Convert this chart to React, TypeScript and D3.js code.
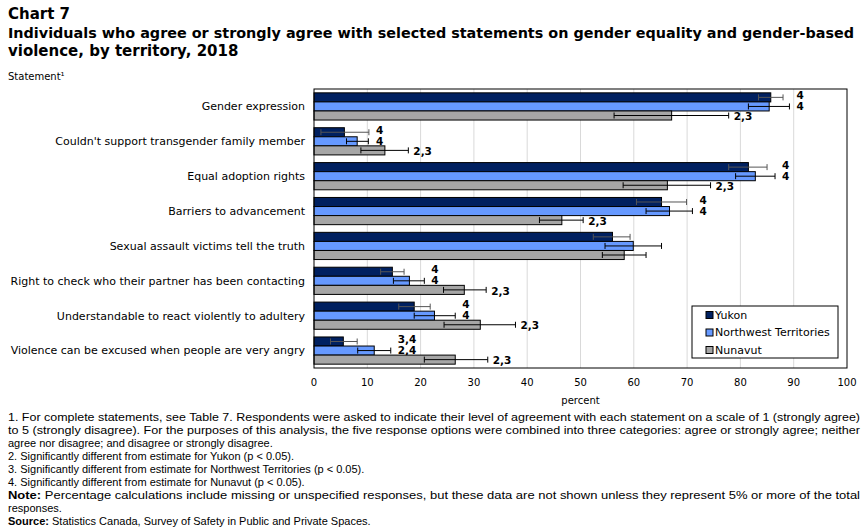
import * as d3 from 'd3';

const statements = [
  'Gender expression',
  "Couldn't support transgender family member",
  'Equal adoption rights',
  'Barriers to advancement',
  'Sexual assault victims tell the truth',
  'Right to check who their partner has been contacting',
  'Understandable to react violently to adultery',
  'Violence can be excused when people are very angry',
];

const territories = ['Yukon', 'Northwest Territories', 'Nunavut'];
const colors = ['#002060', '#6699ff', '#a6a6a6'];

// percent agreeing, with 95% confidence limits
const yukon = [85.7, 5.7, 81.5, 65.2, 56.0, 14.7, 18.8, 5.5];
const yukonLow = [83.4, 1.3, 77.8, 60.5, 52.4, 12.5, 15.9, 3.1];
const yukonHigh = [88.0, 10.3, 85.0, 69.9, 59.3, 16.9, 21.8, 8.1];

const nwt = [85.4, 8.1, 82.8, 66.7, 59.9, 17.9, 22.6, 11.3];
const nwtLow = [81.5, 6.1, 79.1, 62.3, 54.6, 14.9, 18.8, 8.2];
const nwtHigh = [89.2, 10.2, 86.5, 71.0, 65.2, 20.7, 26.5, 14.4];

const nunavut = [67.1, 13.3, 66.3, 46.5, 58.2, 28.2, 31.2, 26.5];
const nunavutLow = [56.3, 8.8, 58.0, 42.3, 54.1, 24.3, 24.4, 20.7];
const nunavutHigh = [77.8, 17.7, 74.4, 50.5, 62.3, 32.3, 37.8, 32.6];

// significance footnote markers
const yukonSig = ['4', '4', '4', '4', '', '4', '4', '3,4'];
const nwtSig = ['4', '4', '4', '4', '', '4', '4', '2,4'];
const nunavutSig = ['2,3', '2,3', '2,3', '2,3', '', '2,3', '2,3', '2,3'];

const xTicks = [0, 10, 20, 30, 40, 50, 60, 70, 80, 90, 100];

const notes = [
  { text: '1. For complete statements, see Table 7. Respondents were asked to indicate their level of agreement with each statement on a scale of 1 (strongly agree)', fit: true },
  { text: 'to 5 (strongly disagree). For the purposes of this analysis, the five response options were combined into three categories: agree or strongly agree; neither', fit: true },
  { text: 'agree nor disagree; and disagree or strongly disagree.' },
  { text: '2. Significantly different from estimate for Yukon (p < 0.05).' },
  { text: '3. Significantly different from estimate for Northwest Territories (p < 0.05).' },
  { text: '4. Significantly different from estimate for Nunavut (p < 0.05).' },
  { bold: 'Note:', text: ' Percentage calculations include missing or unspecified responses, but these data are not shown unless they represent 5% or more of the total', fit: true },
  { text: 'responses.' },
  { bold: 'Source:', text: ' Statistics Canada, Survey of Safety in Public and Private Spaces.' },
];

const series = [
  { values: yukon, low: yukonLow, high: yukonHigh, sig: yukonSig, errColor: '#555555' },
  { values: nwt, low: nwtLow, high: nwtHigh, sig: nwtSig, errColor: '#000000' },
  { values: nunavut, low: nunavutLow, high: nunavutHigh, sig: nunavutSig, errColor: '#000000' },
];

const font = '"DejaVu Sans", Verdana, sans-serif';
const noteFont = '"Liberation Sans", Arial, sans-serif';

export default function App() {
  const width = 866;
  const height = 531;
  const left = 314;
  const right = 847;
  const top = 89;
  const bottom = 368;

  const x = d3.scaleLinear().domain([0, 100]).range([left, right]);
  const y = d3.scaleBand<string>().domain(statements).range([top, bottom]).paddingInner(0.22).paddingOuter(0.11);
  const ySub = d3.scaleBand<string>().domain(territories).range([0, y.bandwidth()]);
  const bh = ySub.bandwidth();

  return (
    <svg width={width} height={height} style={{ position: 'absolute', left: 0, top: 0, background: '#fff' }}>
      <text x={8} y={19} fontFamily={font} fontSize={15} fontWeight="bold">Chart 7</text>
      <text x={8} y={38} fontFamily={font} fontSize={14} fontWeight="bold" textLength={846} lengthAdjust="spacingAndGlyphs">
        Individuals who agree or strongly agree with selected statements on gender equality and gender-based
      </text>
      <text x={8} y={56} fontFamily={font} fontSize={15} fontWeight="bold">violence, by territory, 2018</text>
      <text x={8} y={80} fontFamily={font} fontSize={10}>Statement¹</text>

      {xTicks.slice(1, -1).map(t => (
        <line key={t} x1={x(t)} x2={x(t)} y1={top} y2={bottom} stroke="#d9d9d9" />
      ))}

      {statements.map((s, i) => {
        const y0 = y(s)!;
        const hiTop = Math.max(yukonHigh[i], nwtHigh[i]);
        return (
          <g key={s}>
            <text x={305} y={y0 + y.bandwidth() / 2} dy="0.35em" textAnchor="end" fontFamily={font} fontSize={11}>{s}</text>
            {series.map((ser, k) => {
              const by = y0 + ySub(territories[k])!;
              const cy = by + bh / 2;
              const lx = (k < 2 ? x(hiTop) + 7 : x(ser.high[i]) + 5);
              const ly = cy + (k === 0 ? -2 : k === 2 ? 1 : 0);
              return (
                <g key={k}>
                  <rect x={x(0)} y={by} width={x(ser.values[i]) - x(0)} height={bh} fill={colors[k]} stroke="#000" strokeWidth={1} />
                  <line x1={x(ser.low[i])} x2={x(ser.high[i])} y1={cy} y2={cy} stroke={ser.errColor} />
                  <line x1={x(ser.low[i])} x2={x(ser.low[i])} y1={cy - 3} y2={cy + 3} stroke={ser.errColor} />
                  <line x1={x(ser.high[i])} x2={x(ser.high[i])} y1={cy - 3} y2={cy + 3} stroke={ser.errColor} />
                  {ser.sig[i] && (
                    <text x={lx} y={ly} dy="0.35em" fontFamily={font} fontSize={10.5} fontWeight="bold">{ser.sig[i]}</text>
                  )}
                </g>
              );
            })}
          </g>
        );
      })}

      <rect x={left} y={top} width={right - left} height={bottom - top} fill="none" stroke="#000" />

      {xTicks.map(t => (
        <text key={t} x={x(t)} y={386} textAnchor="middle" fontFamily={font} fontSize={10}>{t}</text>
      ))}
      <text x={(left + right) / 2} y={404} textAnchor="middle" fontFamily={font} fontSize={10}>percent</text>

      <g transform="translate(692,306)">
        <rect width={146} height={52} fill="#fff" stroke="#000" />
        {territories.map((t, k) => (
          <g key={t} transform={`translate(14,${9 + k * 17.5})`}>
            <rect x={0} y={-3.5} width={7} height={7} fill={colors[k]} stroke="#000" />
            <text x={9} y={0} dy="0.35em" fontFamily={font} fontSize={11}>{t}</text>
          </g>
        ))}
      </g>

      {notes.map((n, i) => (
        <text key={i} x={8} y={421 + i * 13} fontFamily={noteFont} fontSize={11}
          textLength={n.fit ? 852 : undefined} lengthAdjust={n.fit ? 'spacingAndGlyphs' : undefined}>
          {n.bold && <tspan fontWeight="bold">{n.bold}</tspan>}
          {n.text}
        </text>
      ))}
    </svg>
  );
}
